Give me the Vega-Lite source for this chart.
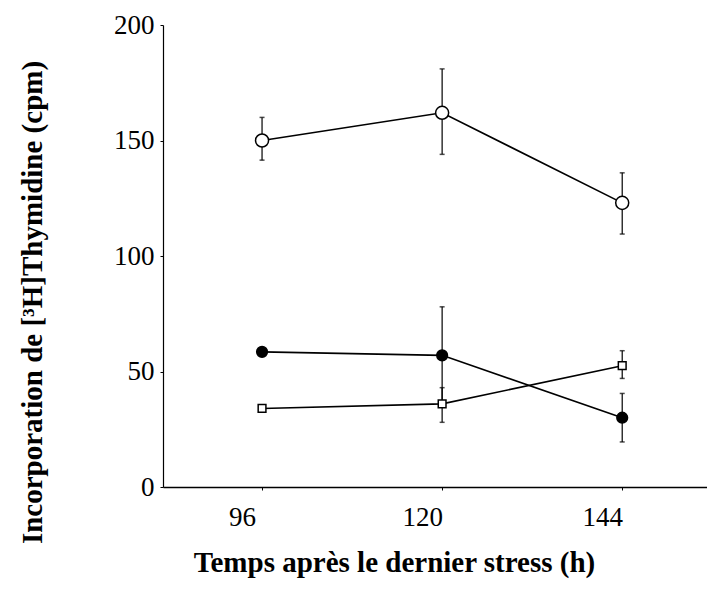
{
  "$schema": "https://vega.github.io/schema/vega-lite/v6.json",
  "width": 544,
  "height": 462,
  "autosize": "none",
  "padding": {"left": 163, "top": 25, "right": 0, "bottom": 110},
  "background": "white",
  "config": {
    "view": {"stroke": null},
    "font": "Liberation Serif",
    "axis": {"domainColor": "black", "tickColor": "black", "labelColor": "black", "titleColor": "black", "grid": false, "labelFont": "Liberation Serif", "titleFont": "Liberation Serif"}
  },
  "data": {"values": [
    {"series": "open", "time": 96, "value": 150, "lo": 141.5, "hi": 160},
    {"series": "open", "time": 120, "value": 162, "lo": 144, "hi": 181},
    {"series": "open", "time": 144, "value": 123, "lo": 109.5, "hi": 136},
    {"series": "filled", "time": 96, "value": 58.5, "lo": null, "hi": null},
    {"series": "filled", "time": 120, "value": 57, "lo": 36, "hi": 78},
    {"series": "filled", "time": 144, "value": 30, "lo": 19.5, "hi": 40.5},
    {"series": "square", "time": 96, "value": 34, "lo": null, "hi": null},
    {"series": "square", "time": 120, "value": 36, "lo": 28, "hi": 43},
    {"series": "square", "time": 144, "value": 52.5, "lo": 47, "hi": 59}
  ]},
  "encoding": {
    "x": {"field": "time", "type": "quantitative", "scale": {"domain": [82.8, 155.3], "nice": false, "zero": false},
      "axis": {"values": [96, 120, 144], "title": "Temps après le dernier stress (h)", "labelFontSize": 27, "titleFontSize": 29, "titleFontWeight": "bold", "labelPadding": 14, "labelOffset": -20, "tickSize": 3, "titlePadding": 18, "titleX": 231, "titleAlign": "center", "domainWidth": 1.5}},
    "y": {"field": "value", "type": "quantitative", "scale": {"domain": [0, 200], "nice": false},
      "axis": {"values": [0, 50, 100, 150, 200], "title": "Incorporation de [³H]Thymidine (cpm)", "labelFontSize": 27, "titleFontSize": 29, "titleFontWeight": "bold", "labelPadding": 6, "tickSize": 3, "titlePadding": 66, "titleY": 277, "titleAlign": "center", "domainWidth": 1.2}}
  },
  "layer": [
    {"transform": [{"filter": "datum.lo != null"}], "mark": {"type": "rule", "color": "black", "strokeWidth": 1.2}, "encoding": {"y": {"field": "lo", "type": "quantitative"}, "y2": {"field": "hi"}}},
    {"transform": [{"filter": "datum.lo != null"}], "mark": {"type": "tick", "orient": "horizontal", "color": "black", "size": 5, "thickness": 1.5}, "encoding": {"y": {"field": "lo", "type": "quantitative"}}},
    {"transform": [{"filter": "datum.lo != null"}], "mark": {"type": "tick", "orient": "horizontal", "color": "black", "size": 5, "thickness": 1.5}, "encoding": {"y": {"field": "hi", "type": "quantitative"}}},
    {"mark": {"type": "line", "color": "black", "strokeWidth": 1.6}, "encoding": {"detail": {"field": "series"}}},
    {"mark": {"type": "point", "stroke": "black", "strokeWidth": 1.5, "opacity": 1, "filled": false},
      "encoding": {
        "shape": {"field": "series", "scale": {"domain": ["open", "filled", "square"], "range": ["circle", "circle", "square"]}, "legend": null},
        "fill": {"field": "series", "scale": {"domain": ["open", "filled", "square"], "range": ["white", "black", "white"]}, "legend": null},
        "size": {"field": "series", "scale": {"domain": ["open", "filled", "square"], "range": [170, 60, 100]}, "legend": null}
      }}
  ]
}
